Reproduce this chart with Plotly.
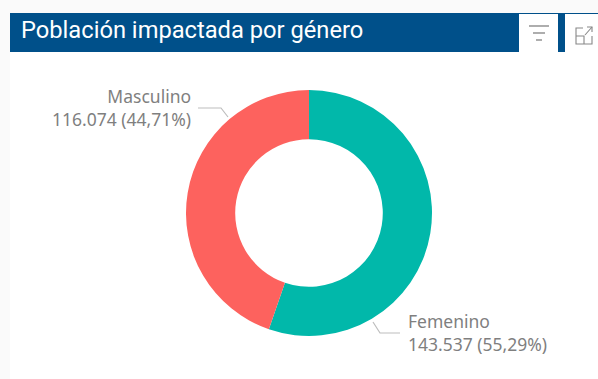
import plotly.graph_objects as go

title_text = "Población impactada por género"
categories = ["Femenino", "Masculino"]
values = [143537, 116074]
value_labels = ["143.537", "116.074"]
pct_labels = ["55,29%", "44,71%"]
colors = ["#01B8AA", "#FD625E"]

W, H = 598, 379
def px(x): return x / W
def py(y): return 1 - y / H

fig = go.Figure(go.Pie(
    labels=categories, values=values, hole=0.6, sort=False,
    direction="clockwise", rotation=0, textinfo="none", hoverinfo="label+value+percent",
    marker=dict(colors=colors, line=dict(width=0)),
    domain=dict(x=[px(186), px(432)], y=[py(336), py(90)]),
    showlegend=False,
))

def rect(x0, y0, x1, y1, color):
    return dict(type="rect", xref="paper", yref="paper", x0=px(x0), x1=px(x1), y0=py(y0), y1=py(y1),
                fillcolor=color, line=dict(width=0), layer="below")
def polyline(points, color="#BDBDBD", width=1.2):
    path = "M " + " L ".join(f"{px(x):.5f},{py(y):.5f}" for x, y in points)
    return dict(type="path", xref="paper", yref="paper", path=path, line=dict(color=color, width=width))

shapes = [
    rect(0, 0, 598, 379, "#FAFAFA"),
    rect(10, 13, 598, 379, "#FFFFFF"),
    rect(10, 13, 598, 52, "#00508A"),
    rect(519, 14, 558, 52, "#FFFFFF"),
    rect(565, 14, 598, 52, "#FFFFFF"),
    polyline([(198, 108), (221, 108), (228, 117)]),
    polyline([(373, 322), (380, 333), (400, 333)]),
    polyline([(529, 26), (549, 26)], "#777777", 1.2),
    polyline([(533, 33), (545, 33)], "#777777", 1.2),
    polyline([(536, 40), (542, 40)], "#777777", 1.2),
    polyline([(583, 28), (576, 28), (576, 44), (592, 44), (592, 36)], "#888888", 1.1),
    polyline([(576, 36), (584, 36), (584, 44)], "#888888", 1.1),
    polyline([(585, 35), (592, 27)], "#888888", 1.1),
    polyline([(587, 27), (592, 27), (592, 32)], "#888888", 1.1),
]

label_font = dict(family="Noto Sans, sans-serif", size=17.5, color="#7F7F7F")
annotations = [
    dict(text=title_text, x=px(19), y=py(30), xref="paper", yref="paper", xanchor="left", yanchor="middle",
         showarrow=False, font=dict(family="Roboto, sans-serif", size=23.7, color="#FFFFFF")),
    dict(text=f"{categories[1]}<br>{value_labels[1]} ({pct_labels[1]})", x=px(193), y=py(107.5),
         xref="paper", yref="paper", xanchor="right", yanchor="middle", align="right",
         showarrow=False, font=label_font),
    dict(text=f"{categories[0]}<br>{value_labels[0]} ({pct_labels[0]})", x=px(406), y=py(332),
         xref="paper", yref="paper", xanchor="left", yanchor="middle", align="left",
         showarrow=False, font=label_font),
]

fig.update_layout(width=W, height=H, margin=dict(l=0, r=0, t=0, b=0),
                  paper_bgcolor="#FFFFFF", plot_bgcolor="#FFFFFF",
                  shapes=shapes, annotations=annotations)
fig.write_html("out.html", config=dict(displayModeBar=False),
               post_script="document.body.style.margin='0';document.body.style.overflow='hidden';")
